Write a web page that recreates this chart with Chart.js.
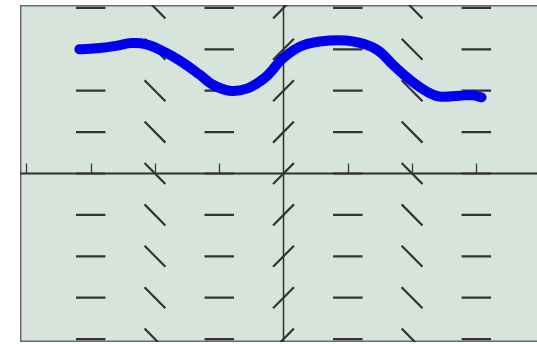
<!DOCTYPE html>
<html>
<head>
<meta charset="utf-8">
<script src="https://cdn.jsdelivr.net/npm/chart.js@4/dist/chart.umd.min.js"></script>
<style>
  html, body { margin: 0; padding: 0; background: #ffffff; }
  #wrap { width: 537px; height: 344px; }
</style>
</head>
<body>
<div id="wrap"><canvas id="c" width="537" height="344"></canvas></div>
<script>
// Slope field columns (x, in radians) and their slopes, rows (y)
const PI = Math.PI;
const fieldX = [-1.5 * PI, -PI, -0.5 * PI, 0, 0.5 * PI, PI, 1.5 * PI];
const fieldSlopes = [0, -1, 0, 1, 0, -1, 0];
const fieldY = [-4, -3, -2, -1, 0, 1, 2, 3, 4];
// x-axis tick positions
const xTicks = [-2 * PI, -1.5 * PI, -PI, -0.5 * PI, 0.5 * PI, PI, 1.5 * PI];
// Hand-drawn solution curve
const curveX = [-4.99, -4.50, -4.06, -3.72, -3.35, -2.98, -2.54, -2.05, -1.74, -1.32, -0.90, -0.51, -0.34, -0.02, 0.46, 1.12, 1.69, 2.27, 2.67, 3.08, 3.50, 3.81, 4.30, 4.62, 4.84];
const curveY = [3.00, 3.03, 3.09, 3.15, 3.12, 2.97, 2.73, 2.39, 2.15, 2.00, 2.05, 2.27, 2.42, 2.78, 3.09, 3.21, 3.19, 3.00, 2.63, 2.27, 1.98, 1.86, 1.88, 1.89, 1.84];

const segHalf = 0.36;
const segData = [];
fieldX.forEach((x, i) => {
  const m = fieldSlopes[i];
  const dx = segHalf / Math.sqrt(1 + m * m);
  fieldY.forEach(y => {
    segData.push({ x: x - dx, y: y - m * dx });
    segData.push({ x: x + dx, y: y + m * dx });
    segData.push({ x: NaN, y: NaN });
  });
});
const curveData = curveX.map((x, i) => ({ x: x, y: curveY[i] }));

const decor = {
  id: 'decor',
  beforeDatasetsDraw(chart) {
    const { ctx, chartArea: a, scales: { x, y } } = chart;
    ctx.save();
    ctx.fillStyle = '#d6e4dc';
    ctx.fillRect(a.left, a.top, a.right - a.left, a.bottom - a.top);
    // border (left, top, bottom)
    ctx.strokeStyle = '#6b6b6b';
    ctx.lineWidth = 1.5;
    ctx.beginPath();
    ctx.moveTo(a.right, a.top + 0.75);
    ctx.lineTo(a.left + 0.75, a.top + 0.75);
    ctx.lineTo(a.left + 0.75, a.bottom - 0.75);
    ctx.lineTo(a.right, a.bottom - 0.75);
    ctx.stroke();
    // axes
    const x0 = x.getPixelForValue(0);
    const y0 = y.getPixelForValue(0);
    ctx.strokeStyle = '#2f2f2f';
    ctx.lineWidth = 2;
    ctx.beginPath();
    ctx.moveTo(a.left, y0);
    ctx.lineTo(a.right, y0);
    ctx.stroke();
    ctx.lineWidth = 1.5;
    ctx.beginPath();
    ctx.moveTo(x0, a.top);
    ctx.lineTo(x0, a.bottom);
    ctx.stroke();
    // ticks
    ctx.lineWidth = 1.3;
    ctx.strokeStyle = '#3a3a3a';
    xTicks.forEach(t => {
      const px = Math.round(x.getPixelForValue(t)) + 0.5;
      ctx.beginPath();
      ctx.moveTo(px, y0);
      ctx.lineTo(px, y0 - 10);
      ctx.stroke();
    });
    ctx.restore();
  }
};

new Chart(document.getElementById('c'), {
  type: 'scatter',
  data: {
    datasets: [
      {
        data: curveData,
        showLine: true,
        borderColor: '#0000ee',
        borderWidth: 10,
        borderCapStyle: 'round',
        borderJoinStyle: 'round',
        tension: 0.4,
        pointRadius: 0,
        order: 0
      },
      {
        data: segData,
        showLine: true,
        spanGaps: false,
        borderColor: '#333333',
        borderWidth: 2.2,
        pointRadius: 0,
        tension: 0,
        order: 1
      }
    ]
  },
  plugins: [decor],
  options: {
    responsive: false,
    animation: false,
    devicePixelRatio: 1,
    layout: { padding: { left: 20, top: 5, right: 0, bottom: 2 } },
    plugins: { legend: { display: false }, tooltip: { enabled: false } },
    scales: {
      x: { type: 'linear', min: -6.44, max: 6.195, display: false },
      y: { type: 'linear', min: -4.07, max: 4.07, display: false }
    }
  }
});
</script>
</body>
</html>
